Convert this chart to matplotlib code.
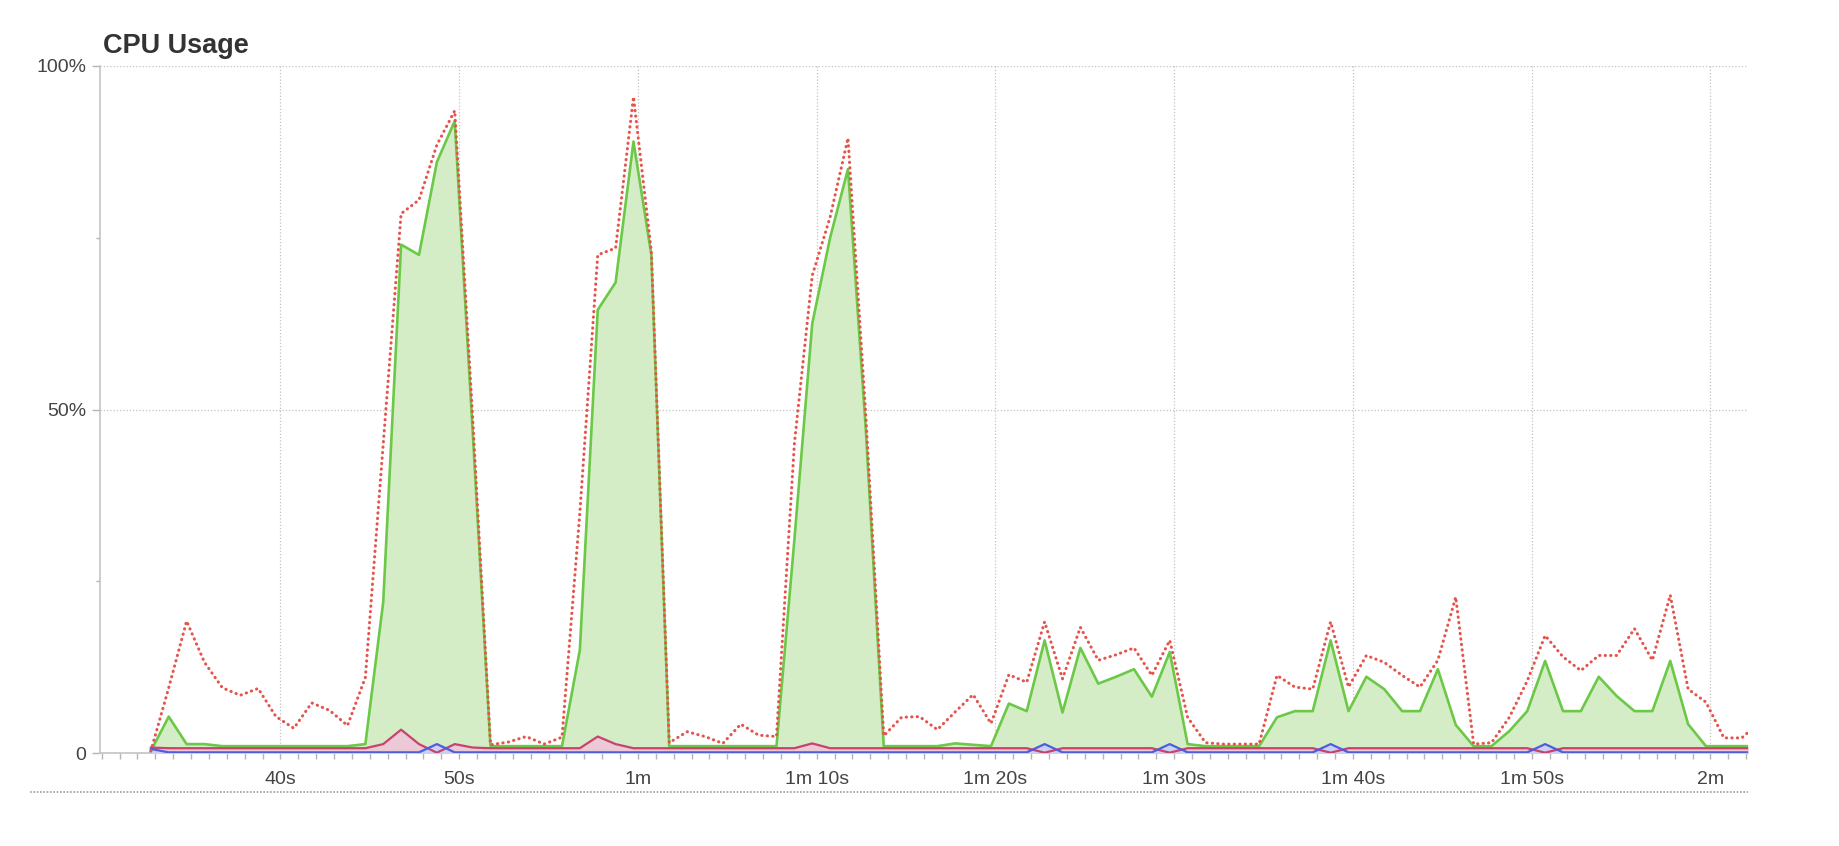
import numpy as np
import matplotlib
matplotlib.use("Agg")
import matplotlib.pyplot as plt
from matplotlib.lines import Line2D

plt.rcParams['font.family'] = ['Liberation Sans', 'DejaVu Sans']

# --- DATA (one sample per second) ---
start_s = 32.75
user_cpu = [0.3, 5.3, 1.3, 1.3, 1.0, 1.0, 1.0, 1.0, 1.0, 1.0,
            1.0, 1.0, 1.3, 22, 74, 72.5, 86, 92, 47, 1.0,
            1.0, 1.0, 1.0, 1.0, 15, 64.5, 68.5, 89, 72.5, 1.0,
            1.0, 1.0, 1.0, 1.0, 1.0, 1.0, 31, 62.5, 75, 85,
            47, 1.0, 1.0, 1.0, 1.0, 1.4, 1.2, 1.0, 7.2, 6.1,
            16.4, 5.9, 15.3, 10.1, 11.1, 12.2, 8.2, 14.7, 1.3, 1.0,
            1.0, 1.0, 1.0, 5.2, 6.1, 6.1, 16.4, 6.1, 11.1, 9.3,
            6.1, 6.1, 12.2, 4.1, 1.0, 1.0, 3.2, 6.1, 13.4, 6.1,
            6.1, 11.1, 8.3, 6.1, 6.1, 13.4, 4.2, 1.0, 1.0, 1.0,
            1.0]
total_cpu = [0.3, 9.5, 19.2, 13.2, 9.5, 8.4, 9.4, 5.3, 3.6, 7.3,
             6.2, 4.0, 11, 45, 78.5, 80.5, 88.5, 93.5, 49, 1.2,
             1.6, 2.4, 1.3, 2.3, 35, 72.5, 73.5, 95.5, 73, 1.5,
             3.1, 2.4, 1.4, 4.2, 2.6, 2.4, 45, 69.5, 78, 89.5,
             49, 2.5, 5.2, 5.3, 3.4, 6.0, 8.5, 4.3, 11.4, 10.3,
             19.1, 10.8, 18.3, 13.5, 14.3, 15.3, 11.3, 16.4, 5.2, 1.5,
             1.3, 1.3, 1.3, 11.3, 9.6, 9.3, 19.1, 9.6, 14.2, 13.2,
             11.3, 9.6, 13.5, 22.7, 1.3, 1.5, 5.2, 10.5, 17.1, 14.0,
             12.0, 14.2, 14.2, 18.1, 13.5, 23.0, 9.3, 7.4, 2.2, 2.2,
             4.5]
system_cpu = [0.8, 0.7, 0.7, 0.7, 0.7, 0.7, 0.7, 0.7, 0.7, 0.7,
              0.7, 0.7, 0.7, 1.3, 3.4, 1.3, 0.05, 1.3, 0.8, 0.7,
              0.7, 0.7, 0.7, 0.7, 0.7, 2.4, 1.3, 0.7, 0.7, 0.7,
              0.7, 0.7, 0.7, 0.7, 0.7, 0.7, 0.7, 1.4, 0.7, 0.7,
              0.7, 0.7, 0.7, 0.7, 0.7, 0.7, 0.7, 0.7, 0.7, 0.7,
              0.05, 0.7, 0.7, 0.7, 0.7, 0.7, 0.7, 0.05, 0.7, 0.7,
              0.7, 0.7, 0.7, 0.7, 0.7, 0.7, 0.05, 0.7, 0.7, 0.7,
              0.7, 0.7, 0.7, 0.7, 0.7, 0.7, 0.7, 0.7, 0.05, 0.7,
              0.7, 0.7, 0.7, 0.7, 0.7, 0.7, 0.7, 0.7, 0.7, 0.7,
              0.7]
other_cpu = [0.6, 0.1, 0.1, 0.1, 0.1, 0.1, 0.1, 0.1, 0.1, 0.1,
             0.1, 0.1, 0.1, 0.1, 0.1, 0.1, 1.3, 0.1, 0.1, 0.1,
             0.1, 0.1, 0.1, 0.1, 0.1, 0.1, 0.1, 0.1, 0.1, 0.1,
             0.1, 0.1, 0.1, 0.1, 0.1, 0.1, 0.1, 0.1, 0.1, 0.1,
             0.1, 0.1, 0.1, 0.1, 0.1, 0.1, 0.1, 0.1, 0.1, 0.1,
             1.3, 0.1, 0.1, 0.1, 0.1, 0.1, 0.1, 1.3, 0.1, 0.1,
             0.1, 0.1, 0.1, 0.1, 0.1, 0.1, 1.3, 0.1, 0.1, 0.1,
             0.1, 0.1, 0.1, 0.1, 0.1, 0.1, 0.1, 0.1, 1.3, 0.1,
             0.1, 0.1, 0.1, 0.1, 0.1, 0.1, 0.1, 0.1, 0.1, 0.1,
             0.1]

tick_pos = [40, 50, 60, 70, 80, 90, 100, 110, 120]
tick_labels = ["40s", "50s", "1m", "1m 10s", "1m 20s", "1m 30s",
               "1m 40s", "1m 50s", "2m"]
y_pos = [0, 50, 100]
y_labels = ["0", "50%", "100%"]

t = start_s + np.arange(len(user_cpu))

# --- PLOT ---
fig = plt.figure(figsize=(18.4, 8.46), dpi=100)
ax = fig.add_axes([0.0543, 0.1099, 0.8957, 0.8121])

ax.fill_between(t, 0, user_cpu, color="#d5edc6", lw=0, zorder=2)
ax.fill_between(t, 0, system_cpu, color="#ecc9d6", lw=0, zorder=3)
ax.fill_between(t, 0, other_cpu, color="#cdd0f3", lw=0, zorder=3)
ax.plot(t, user_cpu, color="#6cc847", lw=1.9, zorder=4)
ax.plot(t, system_cpu, color="#c8426e", lw=1.6, zorder=5)
ax.plot(t, other_cpu, color="#4b5ee0", lw=1.6, zorder=5)
# total: red round dots
ax.plot(t, total_cpu, color="#e5544c", lw=2.2, linestyle=(0, (0.1, 1.7)),
        dash_capstyle="round", zorder=6)

ax.set_xlim(29.9, 122.1)
ax.set_ylim(0, 100)

ax.set_xticks(tick_pos)
ax.set_xticklabels(tick_labels)
ax.set_xticks(np.arange(30, 123, 1), minor=True)
ax.set_yticks(y_pos)
ax.set_yticklabels(y_labels)
ax.set_yticks([25, 75], minor=True)

ax.tick_params(axis="x", which="both", length=4, width=1, color="#b5b5b5",
               labelsize=14, labelcolor="#444444", pad=9)
ax.tick_params(axis="y", which="major", length=6, width=1, color="#b5b5b5",
               labelsize=14, labelcolor="#444444", pad=4)
ax.tick_params(axis="y", which="minor", length=3, width=1, color="#b5b5b5")

for side in ["top", "right"]:
    ax.spines[side].set_visible(False)
for side in ["left", "bottom"]:
    ax.spines[side].set_color("#c4c4c4")
    ax.spines[side].set_linewidth(1.2)

ax.grid(True, which="major", linestyle=(0, (1, 1.6)), color="#c2c2c2",
        linewidth=0.9, zorder=1)
ax.set_axisbelow(True)

fig.text(0.056, 0.937, "CPU Usage", fontsize=19.5, fontweight="bold",
         color="#333333", va="baseline", ha="left")

fig.add_artist(Line2D([0.0163, 0.95], [0.0638, 0.0638], color="#9a9a9a",
                      lw=1.2, linestyle=(0, (1, 1))))

fig.savefig("out.png", dpi=100)
